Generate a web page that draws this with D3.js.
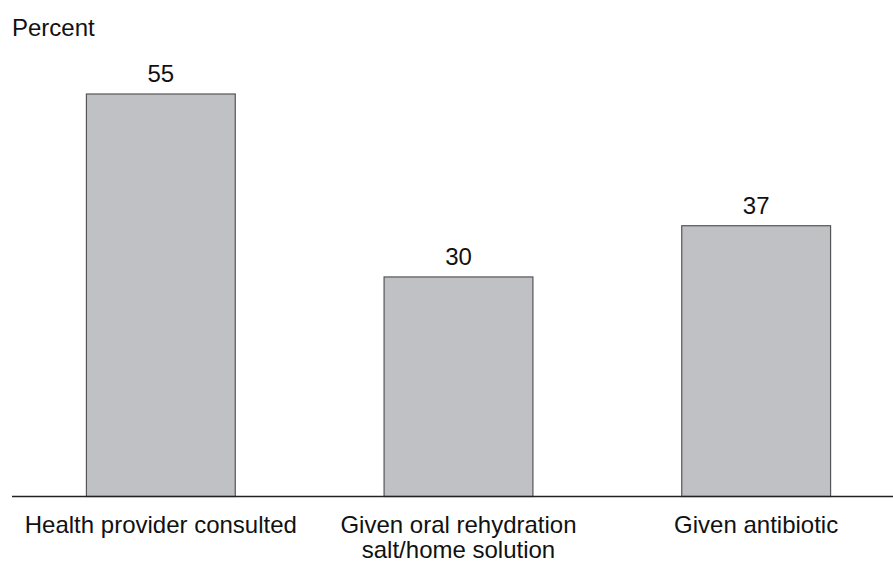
<!DOCTYPE html>
<html>
<head>
<meta charset="utf-8">
<script src="https://cdn.jsdelivr.net/npm/d3@7"></script>
<style>
html,body{margin:0;padding:0;background:#fff;}
svg{display:block;}
text{font-family:"Liberation Sans",Arial,Helvetica,sans-serif;fill:#111;}
</style>
</head>
<body>
<svg id="chart" width="893" height="563"></svg>
<script>
const categories = ["Health provider consulted", "Given oral rehydration salt/home solution", "Given antibiotic"];
const labelLines = [["Health provider consulted"], ["Given oral rehydration", "salt/home solution"], ["Given antibiotic"]];
const values = [55, 30, 37];
const yAxisTitle = "Percent";

const W = 893, H = 563;
const baseY = 496.5;
const svg = d3.select("#chart");

const x = d3.scaleBand().domain(categories).range([12, 905]).paddingInner(0.5).paddingOuter(0.25);
const y = d3.scaleLinear().domain([0, 55]).range([baseY, 94]);

svg.selectAll("rect.bar").data(values).enter().append("rect")
  .attr("class", "bar")
  .attr("x", (d, i) => x(categories[i]))
  .attr("y", d => y(d))
  .attr("width", x.bandwidth())
  .attr("height", d => baseY - y(d))
  .attr("fill", "#c0c1c5")
  .attr("stroke", "#555")
  .attr("stroke-width", 1.2);

svg.append("line")
  .attr("x1", 12).attr("x2", 893)
  .attr("y1", baseY).attr("y2", baseY)
  .attr("stroke", "#222").attr("stroke-width", 1.5);

svg.selectAll("text.val").data(values).enter().append("text")
  .attr("class", "val")
  .attr("x", (d, i) => x(categories[i]) + x.bandwidth() / 2)
  .attr("y", d => y(d) - 12)
  .attr("text-anchor", "middle")
  .attr("font-size", 24)
  .text(d => d);

const lbl = svg.selectAll("text.cat").data(labelLines).enter().append("text")
  .attr("class", "cat")
  .attr("x", (d, i) => x(categories[i]) + x.bandwidth() / 2)
  .attr("y", 533)
  .attr("text-anchor", "middle")
  .attr("font-size", 24);
lbl.selectAll("tspan").data((d, i) => d.map(s => ({s, i}))).enter().append("tspan")
  .attr("x", d => x(categories[d.i]) + x.bandwidth() / 2)
  .attr("dy", (d, j) => j === 0 ? 0 : 25)
  .text(d => d.s);

svg.append("text")
  .attr("x", 12).attr("y", 36)
  .attr("font-size", 24)
  .text(yAxisTitle);
</script>
</body>
</html>
